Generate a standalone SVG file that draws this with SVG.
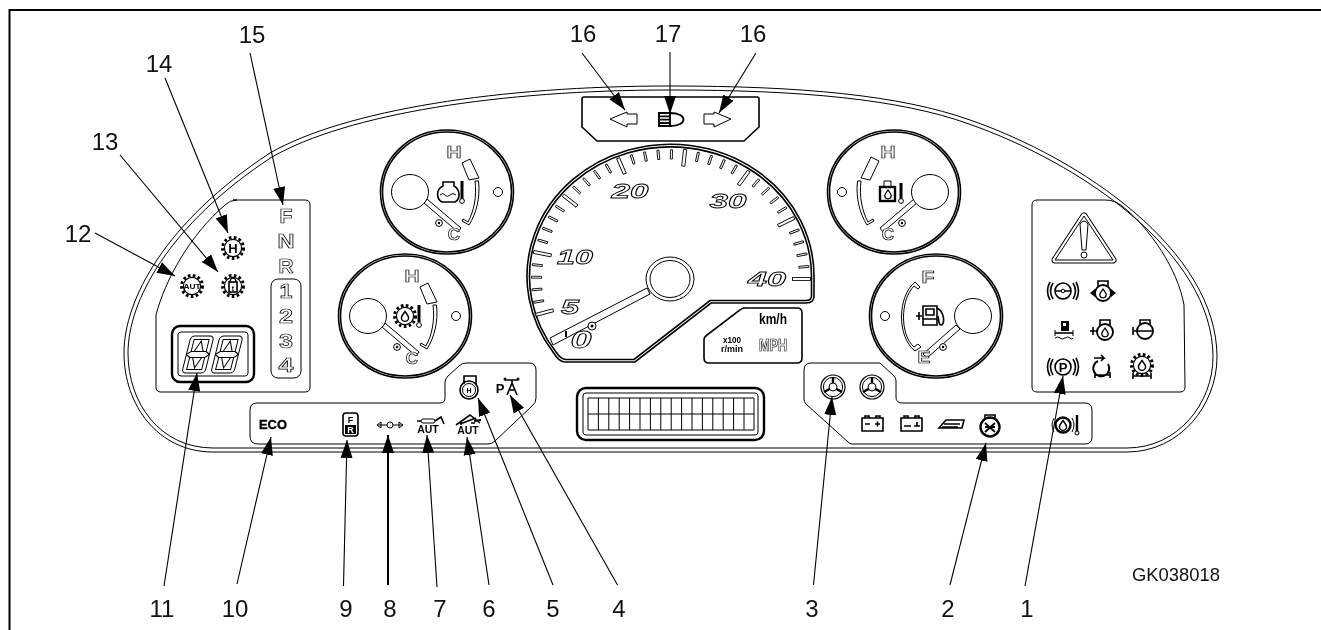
<svg xmlns="http://www.w3.org/2000/svg" width="1321" height="630" viewBox="0 0 1321 630">
<style>
text{font-family:"Liberation Sans",Arial,sans-serif;filter:grayscale(1)}
.lb{font-size:24px;text-anchor:middle;fill:#111}
.o{font-weight:bold;fill:#fff;stroke:#000;stroke-width:.7;text-anchor:middle}
.oi{font-weight:bold;font-style:italic;fill:#fff;stroke:#000;stroke-width:.8;text-anchor:middle}
.k{font-weight:bold;fill:#000;text-anchor:middle}
.l{fill:none;stroke:#000;stroke-width:1}
.m{fill:none;stroke:#000;stroke-width:1.6}
.t{fill:none;stroke:#000;stroke-width:2.4}
.w{fill:#fff;stroke:#000;stroke-width:1}
.b{fill:#000;stroke:none}
.c{fill:none;stroke:#000;stroke-width:1.1;marker-end:url(#ah)}
</style>
<defs>
<marker id="ah" markerUnits="userSpaceOnUse" markerWidth="20" markerHeight="14" refX="18" refY="7" orient="auto"><path d="M0,1 L18,7 L0,13Z"/></marker>
<rect id="tm" x="122" y="-1.6" width="18" height="3.2" class="w" style="stroke-width:.9"/>
<rect id="ti" x="129" y="-1" width="10" height="2" class="w" style="stroke-width:.9"/>
<path id="drop" d="M0,-5C2.5,-1.5 4,0 4,2A4,4 0 0 1 -4,2C-4,0 -2.5,-1.5 0,-5Z" class="m"/>
<g id="gear"><circle r="10.5" fill="none" stroke="#000" stroke-width="3" stroke-dasharray="2.6 2.4"/><circle r="8.6" class="w" style="stroke-width:1.2"/></g>
<g id="eng"><circle r="8" class="w" style="stroke-width:1.8"/><path d="M-5,-7V-12H5V-7" class="m"/><use href="#drop" transform="scale(.8)"/></g>
<g id="dial"><ellipse rx="66.5" ry="62" class="m"/><ellipse rx="64.5" ry="60" class="m"/></g>
<g id="scale">
<polygon points="420,287 428,283 437,302 427,304" class="l"/>
<path d="M433,305H436.500C438.500,322 434,338 427,349L420,345L421,343L426,346C432,335 435,320 433,305Z" class="l"/>
<polygon points="382,327 385,323 419,352 416,356" class="w"/>
<circle cx="397" cy="347" r="3.4" class="w"/><circle cx="397" cy="347" r="1.2" class="b"/>
<ellipse cx="368" cy="316" rx="18.5" ry="17.5" class="w"/>
<text x="412" y="364" class="o" font-size="17">C</text>
</g>
<g id="wheel"><circle r="12" class="w" style="stroke-width:1.2"/><circle r="9.6" class="l"/><circle r="4" class="w"/><path d="M0,-4V-10M-3.5,2L-9,5M3.5,2L9,5" class="t"/></g>
</defs>

<g id="frame"><path d="M9.500,630V10H1321" fill="none" stroke="#000" stroke-width="2"/></g>

<g id="dash">
<path class="l" d="M213,452C158,452 124,405 124,353C124,300 165,222 270,153C345,110 500,86 670,86C800,86 900,95 970,120C1080,158 1217,250 1217,357C1217,405 1180,452 1127,452Z"/>
<path class="l" d="M213,448C160,448 128,403 128,353C128,302 168,225 272,157C347,114 500,90 670,90C800,90 900,99 969,124C1078,162 1213,252 1213,357C1213,403 1178,448 1127,448Z"/>
</g>

<g id="panel-left">
<path class="l" d="M233,200H305Q310,200 310,205V387Q310,392 305,392H161Q156,392 156,387V315C165,280 190,235 225,205Q230,200 237,200Z"/>
<rect x="271" y="279" width="30" height="99" rx="7" class="l"/>
<text x="286" y="223" class="o" font-size="19.500" textLength="13" lengthAdjust="spacingAndGlyphs">F</text>
<text x="286" y="248" class="o" font-size="19.500" textLength="17" lengthAdjust="spacingAndGlyphs">N</text>
<text x="286" y="273" class="o" font-size="19.500" textLength="15" lengthAdjust="spacingAndGlyphs">R</text>
<text x="286" y="298" class="o" font-size="19.500" textLength="13" lengthAdjust="spacingAndGlyphs">1</text>
<text x="286" y="323" class="o" font-size="19.500" textLength="14" lengthAdjust="spacingAndGlyphs">2</text>
<text x="286" y="348" class="o" font-size="19.500" textLength="14" lengthAdjust="spacingAndGlyphs">3</text>
<text x="286" y="372" class="o" font-size="19.500" textLength="15" lengthAdjust="spacingAndGlyphs">4</text>
</g>
<g id="icon-h-gear"><use href="#gear" transform="translate(233,248)"/><text x="233" y="253" class="k" font-size="13">H</text></g>
<g id="icon-lock-gear"><use href="#gear" transform="translate(233,286)"/><rect x="229" y="282" width="8" height="10" class="m"/><path d="M230,282A3,4 0 0 1 236,282" class="m"/><text x="233" y="291" class="k" font-size="7">t</text></g>
<g id="icon-aut-gear"><use href="#gear" transform="translate(192,286)"/><text x="192" y="289" class="k" font-size="7.5" textLength="17" lengthAdjust="spacingAndGlyphs">AUT</text></g>
<g id="seven-seg">
<rect x="172" y="326" width="82" height="56" rx="8" class="t"/>
<rect x="178" y="332" width="70" height="44" rx="3" class="l"/>
<g id="d1" transform="translate(191,336) skewX(-14)"><rect width="23" height="37" rx="4" class="l"/><path class="l" d="M4,3.500H19V15.500H4ZM4,21.500H19V33.500H4ZM7,15.500L11.500,5L16,15.500M7,21.500L11.500,32L16,21.500M0,18.500L4,15.500M23,18.500L19,15.500M0,18.500L4,21.500M23,18.500L19,21.500"/></g>
<g id="d2" transform="translate(220,336) skewX(-14)"><rect width="23" height="37" rx="4" class="l"/><path class="l" d="M4,3.500H19V15.500H4ZM4,21.500H19V33.500H4ZM7,15.500L11.500,5L16,15.500M7,21.500L11.500,32L16,21.500M0,18.500L4,15.500M23,18.500L19,15.500M0,18.500L4,21.500M23,18.500L19,21.500"/></g>
</g>

<g id="gauge-tl">
<use href="#dial" transform="translate(447,192)"/>
<use href="#scale" transform="translate(42,-124)"/>
<circle cx="498" cy="192" r="4.5" class="l"/>
<text x="454" y="158" class="o" font-size="17" textLength="15" lengthAdjust="spacingAndGlyphs">H</text>
<path d="M443,182H454V186C460,189 461,199 455,202H442C436,199 436,189 443,186Z" class="m"/><path d="M440,195Q443,192 445,195T450,195T456,195" class="l"/>
<path d="M462,181V199" stroke="#000" stroke-width="3"/><circle cx="462" cy="201" r="2.4" class="w"/>
</g>
<g id="gauge-bl">
<use href="#dial" transform="translate(405,316)"/>
<use href="#scale"/>
<circle cx="456" cy="316" r="4.5" class="l"/>
<text x="412" y="282" class="o" font-size="17" textLength="15" lengthAdjust="spacingAndGlyphs">H</text>
<use href="#gear" transform="translate(405,316)"/><use href="#drop" transform="translate(405,316) scale(.9)"/>
<path d="M419,305V322" stroke="#000" stroke-width="3"/><circle cx="419" cy="325" r="2.4" class="w"/>
</g>
<g id="gauge-tr">
<use href="#dial" transform="translate(894,192)"/>
<polygon points="871,157 879,161 870,180 861,178" class="l"/>
<path d="M861,181H857.500C855.500,198 860,214 867,225L874,221L873,219L868,222C862,211 859,196 861,181Z" class="l"/>
<polygon points="917,203 914,199 880,228 883,232" class="w"/>
<circle cx="902" cy="223" r="3.400" class="w"/><circle cx="902" cy="223" r="1.200" class="b"/>
<ellipse cx="930" cy="192" rx="18.500" ry="17.500" class="w"/>
<text x="888" y="240" class="o" font-size="17">C</text>
<circle cx="842" cy="192" r="4.5" class="l"/>
<text x="888" y="158" class="o" font-size="17" textLength="15" lengthAdjust="spacingAndGlyphs">H</text>
<rect x="880" y="187" width="15" height="14" class="t"/><path d="M884,187V181H891V187" class="l"/><use href="#drop" transform="translate(888,194) scale(.8)"/>
<path d="M901,183V199" stroke="#000" stroke-width="3"/><circle cx="901" cy="201" r="2.400" class="w"/>
</g>
<g id="gauge-br">
<use href="#dial" transform="translate(936,316)"/>
<path d="M915,282L920,287L918,289L914,286C900,300 900,335 914,347L918,344L921,347L915,351C897,337 897,297 915,282Z" class="l"/>
<polygon points="956,325 960,329 927,358 923,354" class="w"/>
<circle cx="943" cy="347" r="3.400" class="w"/><circle cx="943" cy="347" r="1.200" class="b"/>
<ellipse cx="973" cy="316" rx="18.500" ry="17.500" class="w"/>
<circle cx="885" cy="316" r="4.5" class="l"/>
<text x="928" y="283" class="o" font-size="17" textLength="13" lengthAdjust="spacingAndGlyphs">F</text>
<text x="924" y="363" class="o" font-size="17" textLength="13" lengthAdjust="spacingAndGlyphs">E</text>
<path d="M923,306H937V325H923ZM926,309H934V315H926ZM923,319H937M919,312V320M916,316H922" class="m"/><path d="M937,308C945,312 945,325 941,325C938,325 939,318 938,316" class="m"/>
</g>

<g id="speedometer">
<path class="m" d="M553,352A143.500,132 0 1 1 814,277V296Q814,303 806,303H711L635,362H565Q559,362 553,352Z"/>
<path class="m" d="M556,352A141,129.500 0 1 1 811.500,277V296Q811.500,300.500 806,300.500H710L634,359.500H566Q561,359.500 556,352Z"/>
<g>
<use href="#tm" transform="translate(670.5 279) scale(1 .93)"/>
<use href="#ti" transform="translate(670.5 279) scale(1 .93) rotate(-5.6)"/>
<use href="#ti" transform="translate(670.5 279) scale(1 .93) rotate(-11.2)"/>
<use href="#ti" transform="translate(670.5 279) scale(1 .93) rotate(-16.8)"/>
<use href="#ti" transform="translate(670.5 279) scale(1 .93) rotate(-22.4)"/>
<use href="#tm" transform="translate(670.5 279) scale(1 .93) rotate(-28)"/>
<use href="#ti" transform="translate(670.5 279) scale(1 .93) rotate(-33.6)"/>
<use href="#ti" transform="translate(670.5 279) scale(1 .93) rotate(-39.2)"/>
<use href="#ti" transform="translate(670.5 279) scale(1 .93) rotate(-44.8)"/>
<use href="#ti" transform="translate(670.5 279) scale(1 .93) rotate(-50.4)"/>
<use href="#tm" transform="translate(670.5 279) scale(1 .93) rotate(-56)"/>
<use href="#ti" transform="translate(670.5 279) scale(1 .93) rotate(-61.6)"/>
<use href="#ti" transform="translate(670.5 279) scale(1 .93) rotate(-67.2)"/>
<use href="#ti" transform="translate(670.5 279) scale(1 .93) rotate(-72.8)"/>
<use href="#ti" transform="translate(670.5 279) scale(1 .93) rotate(-78.4)"/>
<use href="#tm" transform="translate(670.5 279) scale(1 .93) rotate(-84)"/>
<use href="#ti" transform="translate(670.5 279) scale(1 .93) rotate(-89.6)"/>
<use href="#ti" transform="translate(670.5 279) scale(1 .93) rotate(-95.2)"/>
<use href="#ti" transform="translate(670.5 279) scale(1 .93) rotate(-100.8)"/>
<use href="#ti" transform="translate(670.5 279) scale(1 .93) rotate(-106.4)"/>
<use href="#tm" transform="translate(670.5 279) scale(1 .93) rotate(-112)"/>
<use href="#ti" transform="translate(670.5 279) scale(1 .93) rotate(-117.6)"/>
<use href="#ti" transform="translate(670.5 279) scale(1 .93) rotate(-123.2)"/>
<use href="#ti" transform="translate(670.5 279) scale(1 .93) rotate(-128.8)"/>
<use href="#ti" transform="translate(670.5 279) scale(1 .93) rotate(-134.4)"/>
<use href="#tm" transform="translate(670.5 279) scale(1 .93) rotate(-140)"/>
<use href="#ti" transform="translate(670.5 279) scale(1 .93) rotate(-145.6)"/>
<use href="#ti" transform="translate(670.5 279) scale(1 .93) rotate(-151.2)"/>
<use href="#ti" transform="translate(670.5 279) scale(1 .93) rotate(-156.8)"/>
<use href="#ti" transform="translate(670.5 279) scale(1 .93) rotate(-162.4)"/>
<use href="#tm" transform="translate(670.5 279) scale(1 .93) rotate(-168)"/>
<use href="#ti" transform="translate(670.5 279) scale(1 .93) rotate(-173.6)"/>
<use href="#ti" transform="translate(670.5 279) scale(1 .93) rotate(-179.2)"/>
<use href="#ti" transform="translate(670.5 279) scale(1 .93) rotate(-184.8)"/>
<use href="#ti" transform="translate(670.5 279) scale(1 .93) rotate(-190.4)"/>
<use href="#tm" transform="translate(670.5 279) scale(1 .93) rotate(-196)"/>
</g>
<polygon points="647,288 550,338 553,345 650,294" class="w"/>
<path d="M566,331V337" stroke="#000" stroke-width="2"/>
<circle cx="592" cy="326" r="4" class="w"/><circle cx="592" cy="326" r="1.5" class="b"/>
<ellipse cx="670" cy="279" rx="24" ry="22" class="w"/><ellipse cx="670" cy="279" rx="20" ry="18.500" class="l"/>
<text x="630" y="198" class="oi" font-size="21" textLength="37" lengthAdjust="spacingAndGlyphs">20</text>
<text x="728" y="208" class="oi" font-size="21" textLength="37" lengthAdjust="spacingAndGlyphs">30</text>
<text x="575" y="264" class="oi" font-size="21" textLength="36" lengthAdjust="spacingAndGlyphs">10</text>
<text x="570" y="314" class="oi" font-size="21" textLength="18" lengthAdjust="spacingAndGlyphs">5</text>
<text x="581" y="348" class="oi" font-size="23" textLength="21" lengthAdjust="spacingAndGlyphs">0</text>
<text x="767" y="286" class="oi" font-size="21" textLength="38" lengthAdjust="spacingAndGlyphs">40</text>
</g>
<g id="units">
<path class="m" d="M743,308H797Q802,308 802,313V358Q802,363 797,363H709Q704,363 704,358V340Q704,337 707,335L740,310Q742,308 745,308Z"/>
<text x="773" y="324" class="k" font-size="14" textLength="28" lengthAdjust="spacingAndGlyphs">km/h</text>
<text x="773" y="351" class="o" font-size="17" textLength="28" lengthAdjust="spacingAndGlyphs">MPH</text>
<text x="732" y="343" class="k" font-size="9" textLength="18" lengthAdjust="spacingAndGlyphs">x100</text>
<text x="732" y="352" class="k" font-size="9" textLength="22" lengthAdjust="spacingAndGlyphs">r/min</text>
</g>

<g id="top-box">
<path class="m" d="M584,97H757Q759,97 759,99V127L744,141H597L582,127V99Q582,97 584,97Z"/>
<path id="turn-left" class="l" d="M610,119L627,112V114H637V124H627V127Z"/>
<path id="turn-right" class="l" d="M731,119L714,112V114H704V124H714V127Z"/>
<g id="headlight"><path d="M658,113H670M658,116.300H670M658,119.600H670M658,123H670M658,126H670" stroke="#000" stroke-width="1.800"/><path d="M659,112.500V126.500" stroke="#000" stroke-width="2"/><path d="M670,113C688,113 688,126 670,126Z" fill="none" stroke="#000" stroke-width="1.800"/></g>
</g>

<g id="lcd">
<rect x="577" y="388" width="187" height="52" rx="9" class="t"/>
<rect x="583" y="393" width="175" height="42" rx="3" class="l"/>
<path class="l" d="M588,398H754V430H588ZM588,414H754M598.400,398V430M608.800,398V430M619.200,398V430M629.600,398V430M640,398V430M650.400,398V430M660.800,398V430M671.200,398V430M681.600,398V430M692,398V430M702.400,398V430M712.800,398V430M723.200,398V430M733.600,398V430M744,398V430"/>
</g>

<g id="panel-center">
<path class="l" d="M257,403H440Q445,403 445,398V382Q445,379 448,376L459,366Q462,363 466,363H529Q536,363 536,370V398Q536,403 532,406L495,441Q492,444 488,444H258Q250,444 250,436V410Q250,403 257,403Z"/>
</g>
<g id="icon-eco"><text x="273" y="429" class="k" font-size="13" textLength="28" lengthAdjust="spacingAndGlyphs" style="stroke:#000;stroke-width:.4">ECO</text></g>
<g id="icon-fr"><rect x="343" y="413" width="15" height="23" rx="3" class="m"/><rect x="345" y="425" width="11" height="9" class="b"/><text x="350.500" y="423" class="k" font-size="9">F</text><text x="350.500" y="433" font-size="9" font-weight="bold" fill="#fff" text-anchor="middle">R</text></g>
<g id="icon-link"><circle cx="390" cy="425" r="3" class="l"/><path class="l" d="M387,425H378M393,425H402M381,422L377,425L381,428ZM399,422L403,425L399,428Z"/></g>
<g id="icon-aut"><text x="428" y="433" class="k" font-size="10.500">AUT</text><rect x="421" y="419" width="14" height="4" rx="2" class="l"/><path class="m" d="M417,421H421M435,421L441,417L444,424"/></g>
<g id="icon-house"><text x="468" y="434" class="k" font-size="10.500">AUT</text><path class="m" d="M456,425L470,415L480,423M461,425V422M475,423H471M460,424L476,418"/><path d="M474,421L481,420" stroke="#000" stroke-width="2"/></g>
<g id="icon-hitch"><circle cx="469" cy="390" r="9" class="m"/><circle cx="469" cy="390" r="6.500" class="l"/><path class="m" d="M464,384V376H476V384"/><text x="469" y="393" class="k" font-size="7">H</text></g>
<g id="icon-p-tower"><text x="500" y="393" class="k" font-size="13">P</text><path class="m" d="M512,380V383L507,395M512,383L517,395M509,390H515M505,380H518"/><circle cx="505" cy="379" r="1.500" class="b"/><circle cx="518" cy="379" r="1.500" class="b"/></g>

<g id="panel-right">
<path class="l" d="M811,363H880L894,376Q896,378 896,381V397Q896,403 902,403H1085Q1092,403 1092,410V437Q1092,444 1085,444H852Q850,444 848,442L806,404Q804,402 804,399V370Q804,363 811,363Z"/>
</g>
<g id="icon-wheel-1"><use href="#wheel" transform="translate(833,387)"/></g>
<g id="icon-wheel-2"><use href="#wheel" transform="translate(872,387)"/></g>
<g id="icon-battery"><path class="m" d="M862,418H883V431H862ZM865,418V416H869V418M876,418V416H880V418M865,424H870M875,424H880M877.500,421.500V426.500"/></g>
<g id="icon-charge"><path class="m" d="M901,418H922V431H901ZM904,418V416H908V418M915,418V416H919V418M904,426H911M914,426H920M917,422V426"/></g>
<g id="icon-book"><path d="M939,428L946,420H964L962,428Z" class="m"/><path d="M944,424H960M942,427H958" stroke="#000" stroke-width="1.600"/></g>
<g id="icon-filter"><circle cx="990" cy="427" r="9.500" class="t"/><path class="m" d="M985,419V415H995V419"/><path d="M985,423L995,432M995,423L985,432M985,427H995" stroke="#000" stroke-width="1.800"/></g>
<g id="icon-oil-temp"><circle cx="1063" cy="425" r="7.500" class="t"/><use href="#drop" transform="translate(1063,425) scale(.9)"/><path class="l" d="M1054,418Q1050,425 1054,432M1072,418Q1076,425 1072,432"/><path d="M1077,415V431" stroke="#000" stroke-width="2.400"/><circle cx="1077" cy="433" r="2" class="w"/></g>

<g id="panel-warning">
<path class="l" d="M1037,200H1105Q1115,200 1122,206C1150,228 1178,270 1184,305L1185,387Q1185,392 1180,392H1037Q1032,392 1032,387V205Q1032,200 1037,200Z"/>
<path d="M1084,216L1113,260H1055Z" fill="none" stroke="#000" stroke-width="7" stroke-linejoin="round"/>
<path d="M1084,216L1113,260H1055Z" fill="#fff" stroke="#fff" stroke-width="5" stroke-linejoin="round"/>
<path d="M1084,216L1113,260H1055Z" fill="none" stroke="#000" stroke-width="1" stroke-linejoin="round"/>
<path class="l" d="M1080,224Q1084,218 1088,224L1086,250H1082Z"/><circle cx="1084" cy="255" r="3" class="l"/>
</g>
<g id="w-brake"><circle cx="1063" cy="291" r="8" class="m"/><path class="m" d="M1053,283Q1048,291 1053,299M1050,282Q1045,291 1050,300M1073,283Q1078,291 1073,299M1076,282Q1081,291 1076,300M1056,291H1070"/><circle cx="1063" cy="291" r="1.800" class="w"/></g>
<g id="w-engine-1"><use href="#eng" transform="translate(1103,293)"/><path class="b" d="M1090,293L1095,289V297ZM1116,293L1111,289V297Z"/></g>
<g id="w-fuel"><rect x="1061" y="321" width="8" height="10" class="b"/><rect x="1063" y="323" width="3" height="3" fill="#fff"/><path class="m" d="M1055,333H1073"/><path class="l" d="M1055,330V336M1073,330V336M1055,338Q1058,336 1060,338T1065,338T1070,338T1073,338"/></g>
<g id="w-engine-2"><use href="#eng" transform="translate(1105,332)"/><path class="m" d="M1093,327V335M1090,331H1097"/></g>
<g id="w-engine-3"><circle cx="1145" cy="331" r="8" class="w" style="stroke-width:1.800"/><path class="m" d="M1140,324V320H1150V324M1137,331H1153M1133,327V335M1133,331H1137"/></g>
<g id="w-park"><circle cx="1063" cy="367" r="8" class="m"/><text x="1063" y="372" class="k" font-size="13">P</text><path class="m" d="M1053,359Q1048,367 1053,375M1050,358Q1045,367 1050,376M1073,359Q1078,367 1073,375M1076,358Q1081,367 1076,376"/></g>
<g id="w-turbo"><path class="m" d="M1098,361A8,8 0 1 0 1108,364" style="stroke-width:2"/><path class="m" d="M1094,358H1104L1101,355M1104,358L1101,361M1095,375H1110M1095,372V378M1110,372V378"/></g>
<g id="w-gear"><use href="#gear" transform="translate(1142,365)"/><use href="#drop" transform="translate(1142,365) scale(.9)"/><path class="m" d="M1133,376H1151M1133,373V379M1151,373V379"/></g>

<g id="connectors">
<path class="c" d="M250,53L283,205"/>
<path class="c" d="M165,78L228,233"/>
<path class="c" d="M120,155L218,272"/>
<path class="c" d="M95,233L175,276"/>
<path class="c" d="M582,53L625,110"/>
<path class="c" d="M670,52V114"/>
<path class="c" d="M756,53L719,113"/>
<path class="c" d="M164,586L197,373"/>
<path class="c" d="M237,584L271,437"/>
<path class="c" d="M343.500,586L347,440"/>
<path class="c" d="M388,585V435" style="stroke-width:2"/>
<path class="c" d="M437,587L427,435"/>
<path class="c" d="M489,585L467,437"/>
<path class="c" d="M553,585L478,398"/>
<path class="c" d="M617.500,585L510,395"/>
<path class="c" d="M813.500,585L832,397"/>
<path class="c" d="M950,585L986,443"/>
<path class="c" d="M1025,586L1063,376"/>
</g>
<g id="labels">
<text x="252" y="43" class="lb">15</text>
<text x="159" y="72" class="lb">14</text>
<text x="105" y="150" class="lb">13</text>
<text x="78" y="242" class="lb">12</text>
<text x="583" y="42" class="lb">16</text>
<text x="668" y="42" class="lb">17</text>
<text x="753" y="42" class="lb">16</text>
<text x="162" y="617" class="lb">11</text>
<text x="235" y="617" class="lb">10</text>
<text x="346" y="617" class="lb">9</text>
<text x="390" y="617" class="lb">8</text>
<text x="440" y="617" class="lb">7</text>
<text x="489" y="617" class="lb">6</text>
<text x="553" y="617" class="lb">5</text>
<text x="619" y="617" class="lb">4</text>
<text x="812" y="617" class="lb">3</text>
<text x="948" y="617" class="lb">2</text>
<text x="1027" y="617" class="lb">1</text>
<text x="1132" y="581" font-size="18.400" fill="#111">GK038018</text>
</g>
</svg>
